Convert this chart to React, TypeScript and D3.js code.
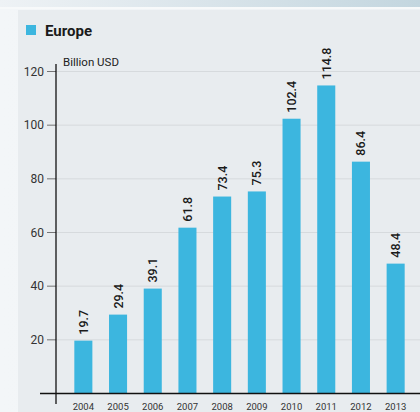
import React from "react";
import * as d3 from "d3";

const years = ["2004","2005","2006","2007","2008","2009","2010","2011","2012","2013"];
const values = [19.7, 29.4, 39.1, 61.8, 73.4, 75.3, 102.4, 114.8, 86.4, 48.4];
const yTicks = [20, 40, 60, 80, 100, 120];
const seriesName = "Europe";
const unitLabel = "Billion USD";

export default function App() {
  const W = 420, H = 412;
  const x = d3.scaleBand<string>().domain(years).range([66, 413]).paddingInner(0.48).paddingOuter(0.24);
  const y = d3.scaleLinear().domain([0, 120]).range([393.5, 71.5]);
  const font = "Roboto, 'Open Sans', sans-serif";
  const blue = "#3cb6df";
  return (
    <svg width={W} height={H} style={{ position: "absolute", left: 0, top: 0, display: "block" }}>
      <defs>
        <linearGradient id="topg" x1="0" x2="1" y1="0" y2="0">
          <stop offset="0" stopColor="#eef2f5" />
          <stop offset="0.5" stopColor="#d9e4ea" />
          <stop offset="1" stopColor="#c3d6df" />
        </linearGradient>
        <linearGradient id="leftg" x1="0" x2="1" y1="0" y2="0">
          <stop offset="0" stopColor="#f3f6f8" />
          <stop offset="1" stopColor="#eef2f5" />
        </linearGradient>
      </defs>
      <rect x={0} y={0} width={W} height={H} fill="url(#leftg)" />
      <rect x={0} y={0} width={W} height={7} fill="url(#topg)" />
      <rect x={0} y={7} width={W} height={2} fill="#f7f9fa" />
      <rect x={18} y={10} width={W - 18} height={H - 10} fill="#e8ecef" />
      {/* legend */}
      <rect x={26} y={25} width={10} height={10} fill={blue} />
      <text x={45} y={35.5} fontFamily={font} fontWeight={700} fontSize={15} fill="#1a1a1a">{seriesName}</text>
      {/* gridlines */}
      {yTicks.map(t => (
        <g key={t}>
          <line x1={56} x2={W} y1={y(t)} y2={y(t)} stroke="#d6dadd" strokeWidth={1} />
          <line x1={47} x2={56} y1={y(t)} y2={y(t)} stroke="#555" strokeWidth={0.8} />
          <text x={44} y={y(t) + 4} textAnchor="end" fontFamily={font} fontSize={12} fill="#333">{t}</text>
        </g>
      ))}
      <text x={63} y={66} fontFamily={font} fontSize={11.5} fill="#222">{unitLabel}</text>
      {/* bars */}
      {years.map((yr, i) => (
        <g key={yr}>
          <rect x={x(yr)} y={y(values[i])} width={x.bandwidth()} height={y(0) - y(values[i])} fill={blue} />
          <text transform={`translate(${(x(yr) as number) + x.bandwidth() / 2 + 4.5},${y(values[i]) - 6}) rotate(-90)`}
            fontFamily={font} fontSize={12.5} fontWeight={500} fill="#1a1a1a">{values[i].toFixed(1)}</text>
          <text x={(x(yr) as number) + x.bandwidth() / 2} y={410} textAnchor="middle" fontFamily={font} fontSize={9.5} fill="#333">{yr}</text>
        </g>
      ))}
      {/* axes */}
      <line x1={56} x2={56} y1={64} y2={404} stroke="#111" strokeWidth={1.3} />
      <line x1={40} x2={W} y1={y(0)} y2={y(0)} stroke="#111" strokeWidth={1.3} />
    </svg>
  );
}
